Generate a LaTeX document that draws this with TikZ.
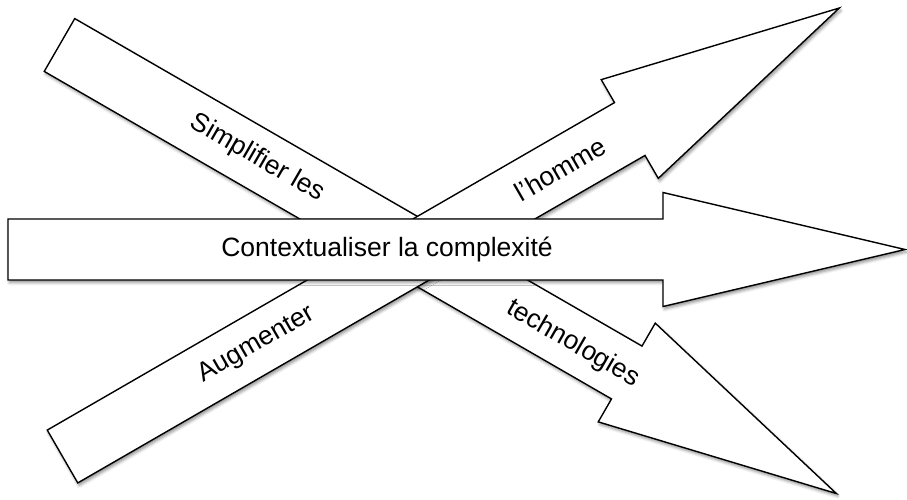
\documentclass[tikz,border=0pt]{standalone}
\usepackage{fontspec}
\setmainfont{Liberation Sans}
\usetikzlibrary{shadows.blur}

\tikzset{
  arrowline/.style={draw=black, line width=1.4pt, fill=white, line join=miter,
    blur shadow={shadow xshift=1.5pt, shadow yshift=-2.5pt,
      shadow blur radius=3pt, shadow opacity=45}},
  arrowtext/.style={font=\fontsize{26.5}{30}\selectfont, inner sep=0pt},
  % fat arrow, tail middle at the origin, pointing along x
  fatarrow/.pic={
    \draw[arrowline] (0,30.5) -- (655,30.5) -- (655,57) -- (897,0)
      -- (655,-57) -- (655,-30.5) -- (0,-30.5) -- cycle;
  }
}

\begin{document}
\begin{tikzpicture}[x=1pt,y=1pt]
        \useasboundingbox (0,0) rectangle (907,-499);

        % Simplifier les technologies
        \begin{scope}[shift={(59.5,-45)},rotate=-30]
        \pic[transform shape] {fatarrow};
        \node[arrowtext,rotate=-30] (simpl) at (228,1) {Simplifier les};
        \node[arrowtext,rotate=-30] (techno) at (594,-2) {technologies};
        \end{scope}

        % Augmenter l'homme
        \begin{scope}[shift={(62.5,-456.5)},rotate=30]
        \pic[transform shape] {fatarrow};
        \node[arrowtext,rotate=30] (augm) at (224,0) {Augmenter};
        \node[arrowtext,rotate=30] (homme) at (575,0) {l'homme};
        \end{scope}

        % Contextualiser la complexite
        \begin{scope}[shift={(8,-249.5)}]
        \pic {fatarrow};
        \node[arrowtext] (context) at (379,0) {Contextualiser la complexité};
        \end{scope}
\end{tikzpicture}
\end{document}
